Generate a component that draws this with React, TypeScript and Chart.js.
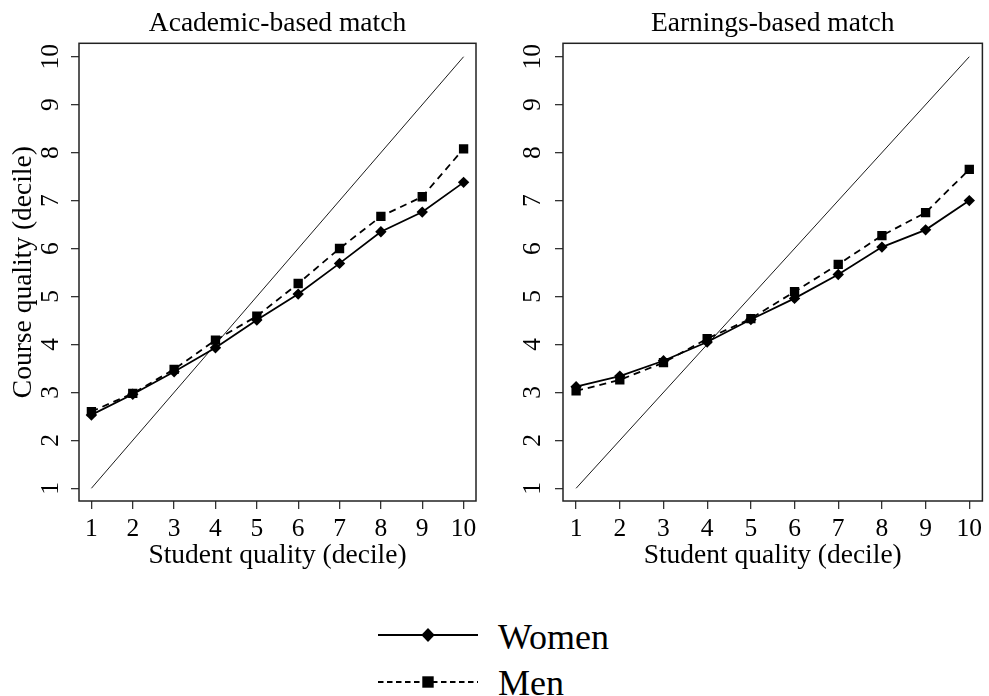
import React, { useEffect, useRef } from 'react';
import { Chart, registerables } from 'chart.js';

Chart.register(...registerables);

// ---------- data ----------
const deciles = [1, 2, 3, 4, 5, 6, 7, 8, 9, 10];
const xTicks = [1, 2, 3, 4, 5, 6, 7, 8, 9, 10];
const yTicks = [1, 2, 3, 4, 5, 6, 7, 8, 9, 10];
const academicWomen = [2.53, 2.96, 3.43, 3.93, 4.51, 5.05, 5.69, 6.35, 6.76, 7.38];
const academicMen = [2.6, 2.98, 3.48, 4.09, 4.59, 5.27, 6.0, 6.67, 7.08, 8.08];
const earningsWomen = [3.12, 3.34, 3.66, 4.05, 4.52, 4.96, 5.46, 6.03, 6.39, 7.0];
const earningsMen = [3.03, 3.26, 3.62, 4.12, 4.54, 5.1, 5.67, 6.27, 6.75, 7.65];
const diagonal = [1, 10];
const panelTitles = ['Academic-based match', 'Earnings-based match'];
const xTitle = 'Student quality (decile)';
const yTitle = 'Course quality (decile)';
const seriesLabels = ['Women', 'Men'];

const FONT = '"Liberation Serif", "Times New Roman", serif';
const CANVAS_H = 600;

const framePlugin = {
  id: 'frame',
  beforeDatasetsDraw(chart: any) {
    const { ctx, chartArea } = chart;
    const { left, top, right, bottom } = chartArea;
    ctx.save();
    ctx.strokeStyle = '#222';
    ctx.lineWidth = 1.5;
    ctx.strokeRect(left, top, right - left, bottom - top);
    ctx.restore();
  },
};

type PanelProps = {
  title: string;
  women: number[];
  men: number[];
  showYTitle: boolean;
  width: number;
  left: number;
  yAxisWidth: number;
  yTickPadding: number;
  padRight: number;
};

function Panel(p: PanelProps) {
  const ref = useRef<HTMLCanvasElement>(null);
  useEffect(() => {
    const chart = new Chart(ref.current as HTMLCanvasElement, {
      type: 'line',
      data: {
        datasets: [
          {
            label: seriesLabels[0],
            data: deciles.map((d, i) => ({ x: d, y: p.women[i] })),
            borderColor: '#000',
            backgroundColor: '#000',
            borderWidth: 1.8,
            pointStyle: 'rectRot',
            pointRadius: 5.7,
            pointBackgroundColor: '#000',
            pointBorderColor: '#000',
            pointBorderWidth: 0,
            tension: 0,
          },
          {
            label: seriesLabels[1],
            data: deciles.map((d, i) => ({ x: d, y: p.men[i] })),
            borderColor: '#000',
            backgroundColor: '#000',
            borderWidth: 1.8,
            borderDash: [7, 5],
            pointStyle: 'rect',
            pointRadius: 6.6,
            pointBackgroundColor: '#000',
            pointBorderColor: '#000',
            pointBorderWidth: 0,
            tension: 0,
          },
          {
            label: '45°',
            data: diagonal.map((v) => ({ x: v, y: v })),
            borderColor: '#000',
            borderWidth: 0.9,
            pointRadius: 0,
            tension: 0,
          },
        ],
      },
      options: {
        responsive: false,
        animation: false,
        layout: { padding: { left: 0, top: 0, right: p.padRight, bottom: 0 } },
        plugins: {
          legend: { display: false },
          tooltip: { enabled: false },
          title: {
            display: true,
            text: p.title,
            fullSize: false,
            color: '#000',
            font: { family: FONT, size: 27.5, weight: 'normal' },
            padding: { top: 7.6, bottom: 2.7 },
          },
        },
        scales: {
          x: {
            type: 'linear',
            min: 0.7,
            max: 10.3,
            afterBuildTicks: (s: any) => {
              s.ticks = xTicks.map((v) => ({ value: v }));
            },
            afterFit: (s: any) => {
              s.height = CANVAS_H - 501;
              s.paddingLeft = 0;
              s.paddingRight = 0;
            },
            ticks: {
              color: '#000',
              font: { family: FONT, size: 25.5 },
              padding: 5,
              maxRotation: 0,
              autoSkip: false,
            },
            grid: {
              display: true,
              drawOnChartArea: false,
              drawTicks: true,
              tickLength: 8,
              color: '#333',
              lineWidth: 1.3,
            },
            border: { display: false },
            title: {
              display: true,
              text: xTitle,
              color: '#000',
              font: { family: FONT, size: 27.5 },
              padding: { top: 0, bottom: 27.6 },
            },
          },
          y: {
            type: 'linear',
            min: 0.735,
            max: 10.28,
            afterBuildTicks: (s: any) => {
              s.ticks = yTicks.map((v) => ({ value: v }));
            },
            afterFit: (s: any) => {
              s.width = p.yAxisWidth;
              s.paddingTop = 0;
              s.paddingBottom = 0;
            },
            ticks: {
              color: '#000',
              font: { family: FONT, size: 25.5 },
              padding: p.yTickPadding,
              minRotation: 90,
              maxRotation: 90,
              crossAlign: 'center',
              autoSkip: false,
            },
            grid: {
              display: true,
              drawOnChartArea: false,
              drawTicks: true,
              tickLength: 8,
              color: '#333',
              lineWidth: 1.3,
            },
            border: { display: false },
            title: {
              display: p.showYTitle,
              text: yTitle,
              color: '#000',
              font: { family: FONT, size: 27.5 },
              padding: { top: 7.6, bottom: 0 },
            },
          },
        },
      },
      plugins: [framePlugin],
    } as any);
    return () => chart.destroy();
  }, []);
  return (
    <canvas
      ref={ref}
      width={p.width}
      height={CANVAS_H}
      style={{ position: 'absolute', left: p.left, top: 0, width: p.width, height: CANVAS_H, display: 'block' }}
    />
  );
}

function LegendRow({ label, dashed, marker, y, textTop }: { label: string; dashed: boolean; marker: 'diamond' | 'square'; y: number; textTop: number }) {
  return (
    <>
      <svg
        width={100}
        height={20}
        style={{ position: 'absolute', left: 378, top: y - 10, overflow: 'visible' }}
      >
        <line
          x1={0}
          y1={10}
          x2={100}
          y2={10}
          stroke="#000"
          strokeWidth={1.8}
          strokeDasharray={dashed ? '5.5 3.5' : undefined}
        />
        {marker === 'diamond' ? (
          <polygon points="43.3,10 50,3 56.7,10 50,17" fill="#000" />
        ) : (
          <rect x={44.3} y={4.3} width={11.4} height={11.4} fill="#000" />
        )}
      </svg>
      <div
        style={{
          position: 'absolute',
          left: 498,
          top: textTop,
          fontFamily: FONT,
          fontSize: 36,
          lineHeight: '36px',
          color: '#000',
          whiteSpace: 'nowrap',
        }}
      >
        {label}
      </div>
    </>
  );
}

export default function App() {
  return (
    <div
      style={{
        position: 'absolute',
        left: 0,
        top: 0,
        width: 989,
        height: 696,
        background: '#fff',
        overflow: 'hidden',
      }}
    >
      <Panel
        title={panelTitles[0]}
        women={academicWomen}
        men={academicMen}
        showYTitle={true}
        width={490}
        left={0}
        yAxisWidth={79}
        yTickPadding={6.8}
        padRight={14}
      />
      <Panel
        title={panelTitles[1]}
        women={earningsWomen}
        men={earningsMen}
        showYTitle={false}
        width={499}
        left={490}
        yAxisWidth={73}
        yTickPadding={8.5}
        padRight={2.3}
      />
      <LegendRow label={seriesLabels[0]} dashed={false} marker="diamond" y={635} textTop={619} />
      <LegendRow label={seriesLabels[1]} dashed={true} marker="square" y={682} textTop={665} />
    </div>
  );
}
